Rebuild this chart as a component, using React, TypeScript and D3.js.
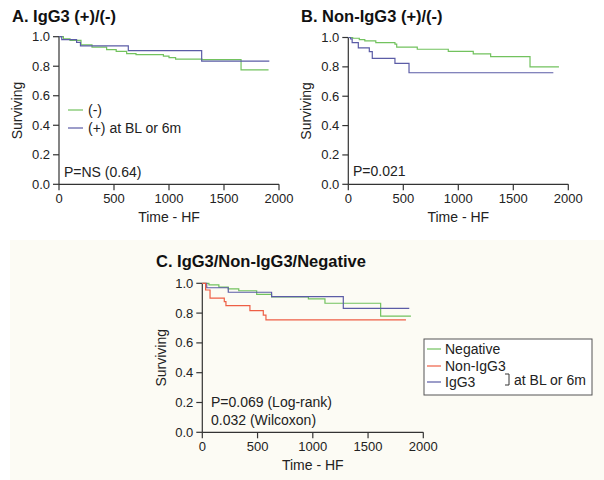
import React from "react";
import * as d3 from "d3";

// ---------- data ----------
const xTicks = [0, 500, 1000, 1500, 2000];
const yTicks = [0, 0.2, 0.4, 0.6, 0.8, 1.0];

// Panel A: IgG3 (+)/(-)
const aNegTimes = [0, 40, 100, 200, 300, 433, 520, 615, 700, 949, 1000, 1060, 1300, 1655, 1905];
const aNegSurv = [1, 0.985, 0.975, 0.945, 0.93, 0.912, 0.9, 0.885, 0.878, 0.868, 0.858, 0.848, 0.845, 0.775, 0.775];
const aPosTimes = [0, 25, 160, 195, 630, 1297, 1912];
const aPosSurv = [1, 0.98, 0.962, 0.938, 0.905, 0.835, 0.835];

// Panel B: Non-IgG3 (+)/(-)
const bNegTimes = [0, 40, 100, 150, 250, 424, 440, 627, 909, 1136, 1294, 1652, 1915];
const bNegSurv = [1, 0.995, 0.985, 0.977, 0.965, 0.955, 0.935, 0.92, 0.905, 0.888, 0.87, 0.8, 0.8];
const bPosTimes = [0, 20, 35, 91, 191, 218, 424, 552, 1864];
const bPosSurv = [1, 0.99, 0.965, 0.93, 0.904, 0.858, 0.824, 0.76, 0.76];

// Panel C: IgG3 / Non-IgG3 / Negative
const cNegTimes = [0, 60, 150, 235, 330, 492, 627, 960, 1110, 1614, 1888];
const cNegSurv = [1, 0.99, 0.975, 0.962, 0.95, 0.926, 0.908, 0.895, 0.866, 0.78, 0.78];
const cIgG3Times = [0, 40, 235, 627, 1276, 1873];
const cIgG3Surv = [1, 0.97, 0.94, 0.91, 0.832, 0.832];
const cNonTimes = [0, 30, 70, 199, 214, 431, 552, 576, 1843];
const cNonSurv = [1, 0.955, 0.9, 0.877, 0.85, 0.816, 0.787, 0.754, 0.754];

const GREEN = "#72c25e";
const BLUE = "#5b5ca6";
const RED = "#ee5f45";
const AXIS = "#333";
const FONT = "'Liberation Sans', Arial, Helvetica, sans-serif";

type Series = { times: number[]; surv: number[]; color: string };

function Panel({
  x0, x1, y0, y1, series, title, titleX, titleY, ylabelX, children,
}: {
  x0: number; x1: number; y0: number; y1: number; series: Series[];
  title: string; titleX: number; titleY: number; ylabelX: number; children?: React.ReactNode;
}) {
  const xs = d3.scaleLinear().domain([0, 2000]).range([x0, x1]);
  const ys = d3.scaleLinear().domain([0, 1]).range([y1, y0]);
  const line = d3
    .line<[number, number]>()
    .x((d) => xs(d[0]))
    .y((d) => ys(d[1]))
    .curve(d3.curveStepAfter);
  return (
    <g fontFamily={FONT}>
      <text x={titleX} y={titleY} fontSize={16.5} fontWeight="bold" fill="#111">{title}</text>
      {/* axes */}
      <line x1={x0} x2={x0} y1={ys(1)} y2={y1} stroke={AXIS} strokeWidth={1.2} />
      <line x1={x0} x2={x1} y1={y1} y2={y1} stroke={AXIS} strokeWidth={1.2} />
      {yTicks.map((t) => (
        <g key={"y" + t}>
          <line x1={x0 - 6} x2={x0} y1={ys(t)} y2={ys(t)} stroke={AXIS} strokeWidth={1.2} />
          <text x={x0 - 9} y={ys(t)} dy="0.35em" textAnchor="end" fontSize={13} fill="#222">
            {t.toFixed(1)}
          </text>
        </g>
      ))}
      {xTicks.map((t) => (
        <g key={"x" + t}>
          <line x1={xs(t)} x2={xs(t)} y1={y1} y2={y1 + 6} stroke={AXIS} strokeWidth={1.2} />
          <text x={xs(t)} y={y1 + 19} textAnchor="middle" fontSize={13} fill="#222">{t}</text>
        </g>
      ))}
      <text
        transform={`translate(${ylabelX},${(ys(1) + y1) / 2}) rotate(-90)`}
        textAnchor="middle" fontSize={14} fill="#222"
      >Surviving</text>
      <text x={(x0 + x1) / 2} y={y1 + 38} textAnchor="middle" fontSize={14} fill="#222">Time - HF</text>
      {series.map((s, i) => (
        <path
          key={i}
          d={line(s.times.map((t, j) => [t, s.surv[j]] as [number, number])) || ""}
          fill="none" stroke={s.color} strokeWidth={1.2}
        />
      ))}
      {children}
    </g>
  );
}

export default function App() {
  return (
    <svg width={604} height={480} style={{ position: "absolute", left: 0, top: 0, background: "#fff" }}>
      <rect x={10} y={240} width={594} height={240} fill="#fcfbf4" />
      <Panel
        x0={59} x1={279} y0={36.7} y1={184.3}
        title="A. IgG3 (+)/(-)" titleX={12} titleY={22} ylabelX={22}
        series={[
          { times: aNegTimes, surv: aNegSurv, color: GREEN },
          { times: aPosTimes, surv: aPosSurv, color: BLUE },
        ]}
      >
        <g fontFamily={FONT} fontSize={14} fill="#222">
          <line x1={68} x2={83} y1={110} y2={110} stroke={GREEN} strokeWidth={1.2} />
          <text x={88} y={110} dy="0.35em">(-)</text>
          <line x1={68} x2={83} y1={128} y2={128} stroke={BLUE} strokeWidth={1.2} />
          <text x={88} y={128} dy="0.35em">(+) at BL or 6m</text>
          <text x={64} y={177}>P=NS (0.64)</text>
        </g>
      </Panel>
      <Panel
        x0={348.3} x1={568.3} y0={37.5} y1={184.3}
        title="B. Non-IgG3 (+)/(-)" titleX={301} titleY={22} ylabelX={311}
        series={[
          { times: bNegTimes, surv: bNegSurv, color: GREEN },
          { times: bPosTimes, surv: bPosSurv, color: BLUE },
        ]}
      >
        <text x={353} y={176} fontFamily={FONT} fontSize={14} fill="#222">P=0.021</text>
      </Panel>
      <Panel
        x0={202.3} x1={423.3} y0={283.3} y1={432.3}
        title="C. IgG3/Non-IgG3/Negative" titleX={156} titleY={267} ylabelX={166}
        series={[
          { times: cNegTimes, surv: cNegSurv, color: GREEN },
          { times: cIgG3Times, surv: cIgG3Surv, color: BLUE },
          { times: cNonTimes, surv: cNonSurv, color: RED },
        ]}
      >
        <g fontFamily={FONT} fontSize={14} fill="#222">
          <text x={211} y={407}>P=0.069 (Log-rank)</text>
          <text x={211} y={425}>0.032 (Wilcoxon)</text>
          <rect x={424} y={339} width={168} height={56} fill="#fff" stroke="#555" strokeWidth={1} />
          <line x1={427} x2={441} y1={349} y2={349} stroke={GREEN} strokeWidth={1.2} />
          <text x={445} y={349} dy="0.35em">Negative</text>
          <line x1={427} x2={441} y1={366} y2={366} stroke={RED} strokeWidth={1.2} />
          <text x={445} y={366} dy="0.35em">Non-IgG3</text>
          <line x1={427} x2={441} y1={382} y2={382} stroke={BLUE} strokeWidth={1.2} />
          <text x={445} y={382} dy="0.35em">IgG3</text>
          <path d="M505,374 H509 V385 H505" fill="none" stroke="#333" strokeWidth={1} />
          <text x={514} y={380} dy="0.35em">at BL or 6m</text>
        </g>
      </Panel>
    </svg>
  );
}
